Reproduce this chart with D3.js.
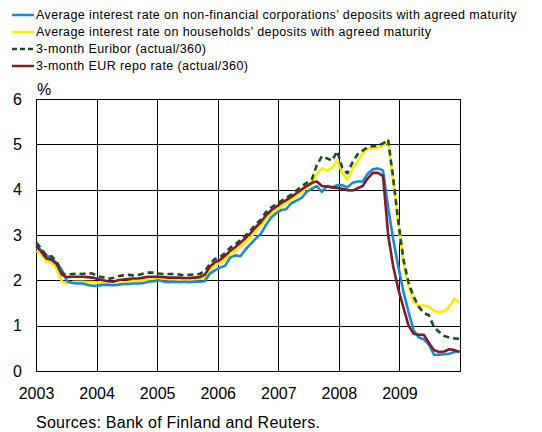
<!DOCTYPE html>
<html>
<head>
<meta charset="utf-8">
<script src="https://cdn.jsdelivr.net/npm/d3@7"></script>
<style>
  body { margin: 0; background: #fff; }
  svg { display: block; font-family: "Liberation Sans", Arial, sans-serif; }
</style>
</head>
<body>
<div id="chart"></div>
<script>
const years = [2003, 2004, 2005, 2006, 2007, 2008, 2009, 2010]
const yTicks = [0, 1, 2, 3, 4, 5, 6]

const nfcDeposits = [
    2.73, 2.66, 2.55, 2.47, 2.38, 2.22, 1.98, 1.94, 1.93, 1.93, 1.90, 1.88,
    1.88, 1.90, 1.90, 1.89, 1.90, 1.92, 1.92, 1.93, 1.93, 1.94, 1.97, 1.98,
    2.00, 1.97, 1.96, 1.97, 1.96, 1.97, 1.96, 1.97, 1.97, 1.98, 2.15, 2.22,
    2.28, 2.32, 2.50, 2.55, 2.53, 2.68, 2.80, 2.92, 3.02, 3.22, 3.38, 3.48,
    3.55, 3.57, 3.70, 3.76, 3.82, 3.95, 4.02, 4.08, 3.95, 4.08, 4.05, 4.10,
    4.10, 4.05, 4.15, 4.18, 4.18, 4.35, 4.45, 4.47, 4.42, 3.60, 2.90, 2.30,
    1.75, 1.30, 0.90, 0.74, 0.70, 0.58, 0.36, 0.36, 0.37, 0.38, 0.42, 0.44
]
const householdDeposits = [
    2.65, 2.55, 2.42, 2.38, 2.25, 1.97, 1.93, 1.96, 1.97, 1.97, 1.96, 1.96,
    1.95, 1.93, 1.91, 1.90, 1.92, 1.95, 1.97, 1.98, 1.98, 2.00, 2.02, 2.03,
    2.04, 2.03, 2.02, 2.02, 2.01, 2.01, 2.01, 2.02, 2.03, 2.05, 2.22, 2.33,
    2.38, 2.46, 2.57, 2.64, 2.74, 2.84, 2.95, 3.08, 3.20, 3.35, 3.46, 3.54,
    3.62, 3.70, 3.78, 3.86, 3.95, 4.04, 4.12, 4.35, 4.47, 4.42, 4.48, 4.65,
    4.38, 4.22, 4.45, 4.62, 4.80, 4.90, 4.92, 4.92, 4.98, 5.06, 4.20, 3.25,
    2.40, 1.88, 1.52, 1.43, 1.45, 1.42, 1.33, 1.30, 1.32, 1.42, 1.60, 1.50
]
const euribor = [
    2.83, 2.69, 2.53, 2.53, 2.40, 2.15, 2.13, 2.14, 2.15, 2.14, 2.16, 2.15,
    2.09, 2.07, 2.03, 2.05, 2.09, 2.11, 2.12, 2.11, 2.12, 2.15, 2.17, 2.17,
    2.15, 2.14, 2.14, 2.14, 2.13, 2.11, 2.12, 2.13, 2.14, 2.20, 2.36, 2.47,
    2.51, 2.60, 2.72, 2.79, 2.89, 2.99, 3.10, 3.23, 3.34, 3.50, 3.60, 3.68,
    3.75, 3.82, 3.89, 3.98, 4.07, 4.15, 4.22, 4.54, 4.74, 4.69, 4.64, 4.85,
    4.48, 4.36, 4.60, 4.78, 4.86, 4.94, 4.96, 4.97, 5.02, 5.11, 4.24, 3.29,
    2.46, 1.94, 1.64, 1.42, 1.28, 1.23, 0.97, 0.86, 0.77, 0.74, 0.72, 0.71
]
const repoRate = [
    2.76, 2.62, 2.48, 2.45, 2.35, 2.12, 2.07, 2.08, 2.08, 2.08, 2.07, 2.06,
    2.03, 2.00, 1.98, 1.97, 2.00, 2.02, 2.03, 2.04, 2.04, 2.06, 2.08, 2.08,
    2.08, 2.07, 2.06, 2.06, 2.06, 2.05, 2.05, 2.06, 2.07, 2.12, 2.30, 2.40,
    2.45, 2.54, 2.65, 2.73, 2.83, 2.93, 3.04, 3.17, 3.28, 3.43, 3.54, 3.62,
    3.70, 3.77, 3.84, 3.92, 4.00, 4.08, 4.15, 4.18, 4.08, 4.07, 4.05, 4.04,
    4.02, 3.99, 3.98, 4.03, 4.08, 4.25, 4.37, 4.37, 4.30, 3.00, 2.30, 1.80,
    1.40, 1.00, 0.82, 0.80, 0.80, 0.62, 0.46, 0.42, 0.43, 0.48, 0.46, 0.42
]

const seriesNames = [
    "Average interest rate on non-financial corporations\u2019 deposits with agreed maturity",
    "Average interest rate on households\u2019 deposits with agreed maturity",
    "3-month Euribor (actual/360)",
    "3-month EUR repo rate (actual/360)"
]
const source = "Sources: Bank of Finland and Reuters."

const render = () => {
    const width = 542
    const height = 432
    const margin = { top: 99, left: 36, right: 82, bottom: 61 }
    const innerWidth = width - margin.left - margin.right
    const innerHeight = height - margin.top - margin.bottom

    const months = d3.timeMonth.range(new Date(2003, 0, 1), new Date(2010, 0, 1))

    const series = [
        { name: seriesNames[0], values: nfcDeposits, color: "#1a8ad4", dash: null },
        { name: seriesNames[1], values: householdDeposits, color: "#ffeb00", dash: null },
        { name: seriesNames[2], values: euribor, color: "#1d4d22", dash: "6,4" },
        { name: seriesNames[3], values: repoRate, color: "#7d1d2b", dash: null }
    ]
    // draw order: yellow under, then blue, euribor dashed, repo on top
    const drawOrder = [1, 0, 2, 3]

    const svg = d3.select("#chart")
        .append("svg")
        .attr("width", width)
        .attr("height", height)

    const xPoint = d3.scalePoint()
        .domain(d3.range(months.length))
        .range([0.5, innerWidth - 0.5])

    const xYear = d3.scaleLinear()
        .domain([years[0], years[years.length - 1]])
        .range([0, innerWidth])

    const yScale = d3.scaleLinear()
        .domain([0, 6])
        .range([innerHeight, 0])

    const g = svg.append("g")
        .attr("transform", `translate(${margin.left},${margin.top})`)

    // grid
    g.append("g")
        .selectAll("line")
        .data(yTicks.slice(1, -1))
        .join("line")
        .attr("x1", 0)
        .attr("x2", innerWidth)
        .attr("y1", d => Math.round(yScale(d)) + 0.5)
        .attr("y2", d => Math.round(yScale(d)) + 0.5)
        .attr("stroke", "#000")
        .attr("stroke-width", 1)

    g.append("g")
        .selectAll("line")
        .data(years.slice(1, -1))
        .join("line")
        .attr("x1", d => Math.round(xYear(d)) + 0.5)
        .attr("x2", d => Math.round(xYear(d)) + 0.5)
        .attr("y1", 0)
        .attr("y2", innerHeight)
        .attr("stroke", "#000")
        .attr("stroke-width", 1)

    g.append("rect")
        .attr("x", 0.5)
        .attr("y", 0.5)
        .attr("width", innerWidth)
        .attr("height", innerHeight)
        .attr("fill", "none")
        .attr("stroke", "#000")
        .attr("stroke-width", 1)

    // y axis labels
    const yAxis = d3.axisLeft(yScale)
        .tickValues(yTicks)
        .tickFormat(d3.format("d"))
        .tickSize(0)
        .tickPadding(14)
    const yAxisG = g.append("g").call(yAxis)
    yAxisG.select(".domain").remove()
    yAxisG.selectAll("text")
        .attr("font-size", 16)
        .attr("font-family", "Liberation Sans, Arial, sans-serif")
        .attr("fill", "#000")

    // x axis labels
    const xAxis = d3.axisBottom(xYear)
        .tickValues(years.slice(0, -1))
        .tickFormat(d3.format("d"))
        .tickSize(0)
        .tickPadding(17)
    const xAxisG = g.append("g")
        .attr("transform", `translate(0,${innerHeight})`)
        .call(xAxis)
    xAxisG.select(".domain").remove()
    xAxisG.selectAll("text")
        .attr("font-size", 16)
        .attr("font-family", "Liberation Sans, Arial, sans-serif")
        .attr("fill", "#000")

    g.append("text")
        .attr("x", 1)
        .attr("y", -4)
        .attr("font-size", 16)
        .text("%")

    // lines
    const line = d3.line()
        .x((d, i) => xPoint(i))
        .y(d => yScale(d))

    g.append("g")
        .selectAll("path")
        .data(drawOrder.map(i => series[i]))
        .join("path")
        .attr("d", d => line(d.values))
        .attr("fill", "none")
        .attr("stroke", d => d.color)
        .attr("stroke-width", 2.6)
        .attr("stroke-linejoin", "round")
        .attr("stroke-dasharray", d => d.dash)

    // legend
    const legend = svg.append("g")
        .attr("transform", "translate(12,15)")
    const rowH = 17
    const rows = legend.selectAll("g")
        .data(series)
        .join("g")
        .attr("transform", (d, i) => `translate(0,${i * rowH})`)
    rows.append("line")
        .attr("x1", 0)
        .attr("x2", 22)
        .attr("y1", 0)
        .attr("y2", 0)
        .attr("stroke", d => d.color)
        .attr("stroke-width", 2.5)
        .attr("stroke-dasharray", d => d.dash ? "5,3" : null)
    rows.append("text")
        .attr("x", 24)
        .attr("y", 0)
        .attr("dy", "0.35em")
        .attr("font-size", 12.5)
        .attr("letter-spacing", 0.4)
        .text(d => d.name)

    svg.append("text")
        .attr("x", 36)
        .attr("y", 428)
        .attr("font-size", 16)
        .attr("letter-spacing", 0.25)
        .text(source)
}

render()
</script>
</body>
</html>
